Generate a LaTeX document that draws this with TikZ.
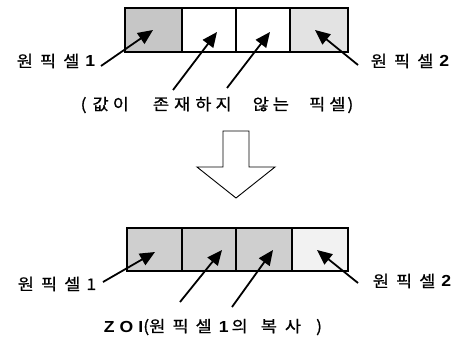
\documentclass[tikz,border=0pt]{standalone}
\usepackage{fontspec}
\setmainfont{Noto Sans CJK KR}[FakeStretch=1.1,FakeBold=0.8]
\newfontfamily\latf{Liberation Sans}[FakeStretch=1.1]
\usetikzlibrary{arrows.meta}
\newcommand\gp[1]{\hspace{#1pt}}
\newcommand\dg[1]{{\latf\bfseries #1}}
\tikzset{
  cellbox/.style={draw=black,line width=1.6pt,inner sep=0pt,minimum height=44pt},
  lbl/.style={inner sep=0pt,font=\fontsize{16pt}{18pt}\selectfont},
  conn/.style={line width=1.8pt,-{Triangle[length=15pt,width=13pt]}},
  bigarrow/.style={draw=black,line width=0.9pt,fill=white,line join=miter}
}
\begin{document}
\begin{tikzpicture}[x=1pt,y=-1pt]
\useasboundingbox (0,0) rectangle (458,340);
% top row
\node[cellbox,fill=gray!45,minimum width=57pt] (t1) at (153.5,30) {};
\node[cellbox,fill=white,minimum width=54pt] (t2) at (209,30) {};
\node[cellbox,fill=white,minimum width=54pt] (t3) at (263,30) {};
\node[cellbox,fill=gray!22,minimum width=58pt] (t4) at (319,30) {};
% bottom row
\node[cellbox,fill=gray!38,minimum width=55pt,minimum height=43pt] (b1) at (154.5,249.5) {};
\node[cellbox,fill=gray!38,minimum width=54pt,minimum height=43pt] (b2) at (209,249.5) {};
\node[cellbox,fill=gray!38,minimum width=56pt,minimum height=43pt] (b3) at (264,249.5) {};
\node[cellbox,fill=gray!10,minimum width=56pt,minimum height=43pt] (b4) at (320,249.5) {};
% labels top
\node[lbl] (lt1) at (56,61) {원\gp{7}픽\gp{7}셀\gp{6}\dg{1}};
\node[lbl] (lt2) at (410,61) {원\gp{7}픽\gp{7}셀\gp{6}\dg{2}};
\node[lbl] (lt3) at (217,105) {(\gp{6}값\gp{4}이\gp{24}존\gp{5}재\gp{5}하\gp{4}지\gp{21}않\gp{4}는\gp{20}픽\gp{4}셀\gp{2})};
% labels bottom
\node[lbl] (lb1) at (57,284) {원\gp{7}픽\gp{7}셀\gp{6}1};
\node[lbl] (lb2) at (412,281) {원\gp{7}픽\gp{7}셀\gp{6}\dg{2}};
\node[lbl] (lb3) at (213,327) {\dg{Z\gp{5}O\gp{5}I}(원\gp{7}픽\gp{7}셀\gp{7}\dg{1}\gp{3}의\gp{13}복\gp{8}사\gp{15})};
% connector coordinates top
\coordinate (st1) at (101,66); \coordinate (et1) at (153,30);
\coordinate (st2) at (173,90); \coordinate (et2) at (217,32);
\coordinate (st3) at (227,88); \coordinate (et3) at (270,32);
\coordinate (st4) at (358,65); \coordinate (et4) at (315,30);
\draw[conn] (st1) -- (et1);
\draw[conn] (st2) -- (et2);
\draw[conn] (st3) -- (et3);
\draw[conn] (st4) -- (et4);
% connector coordinates bottom
\coordinate (sb1) at (103,282); \coordinate (eb1) at (155,252);
\coordinate (sb2) at (180,302); \coordinate (eb2) at (222,250);
\coordinate (sb3) at (232,307); \coordinate (eb3) at (273,250);
\coordinate (sb4) at (358,283); \coordinate (eb4) at (317,250);
\draw[conn] (sb1) -- (eb1);
\draw[conn] (sb2) -- (eb2);
\draw[conn] (sb3) -- (eb3);
\draw[conn] (sb4) -- (eb4);
% big hollow down arrow
\draw[bigarrow] (223,131) -- (249,131) -- (249,167) -- (275,167) -- (236,198) -- (197,167) -- (223,167) -- cycle;
\end{tikzpicture}
\end{document}
